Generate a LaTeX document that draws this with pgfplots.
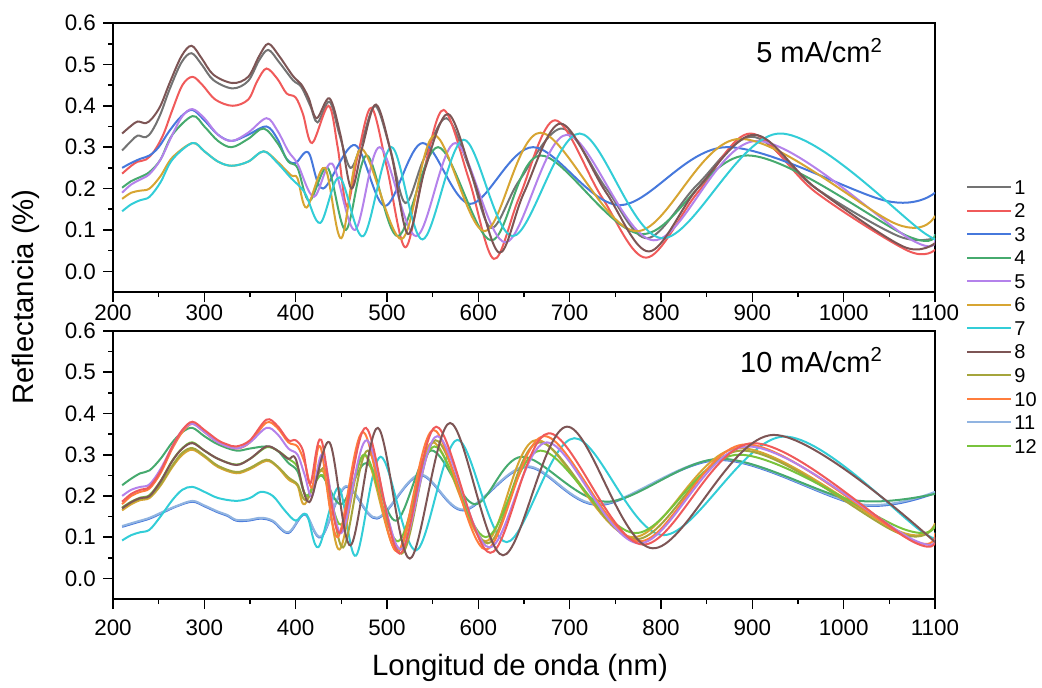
\documentclass[border=0pt]{standalone}
\usepackage{pgfplots}
\pgfplotsset{compat=1.18}
\usepackage{fontspec}
\setmainfont{Liberation Sans}
\definecolor{c1}{RGB}{115,115,115}
\definecolor{c2}{RGB}{240,90,90}
\definecolor{c3}{RGB}{70,120,220}
\definecolor{c4}{RGB}{70,170,110}
\definecolor{c5}{RGB}{180,130,235}
\definecolor{c6}{RGB}{215,165,50}
\definecolor{c7}{RGB}{50,205,215}
\definecolor{c8}{RGB}{125,85,85}
\definecolor{c9}{RGB}{165,165,60}
\definecolor{c10}{RGB}{255,125,60}
\definecolor{c11}{RGB}{145,180,225}
\definecolor{c12}{RGB}{120,195,60}
\pgfplotsset{
  panel/.style={
    scale only axis, width=411pt,
    xmin=200, xmax=1100, ymin=-0.05, ymax=0.6,
    xtick={200,300,400,500,600,700,800,900,1000,1100},
    ytick={0,0.1,0.2,0.3,0.4,0.5,0.6},
    minor x tick num=1, minor y tick num=1,
    xtick pos=bottom, ytick pos=left,
    tick align=outside,
    major tick length=5pt, minor tick length=2.5pt,
    axis line style={line width=0.9pt},
    every tick/.style={black, line width=0.8pt},
    /pgf/number format/assume math mode=true,
    ticklabel style={font=\fontsize{11.2}{12}\selectfont},
    xticklabel style={/pgf/number format/set thousands separator={}},
    yticklabel style={/pgf/number format/fixed, /pgf/number format/fixed zerofill, /pgf/number format/precision=1},
    scaled y ticks=false,
    every axis plot/.append style={smooth, tension=0.55, line width=1pt, forget plot},
  }
}
\begin{document}
\begin{tikzpicture}
\useasboundingbox (0pt,0pt) rectangle (521pt,343.5pt);
% ---------------- top panel: 5 mA/cm2 ----------------
\begin{axis}[panel, height=134.5pt, at={(56.5pt,197.5pt)}, anchor=south west,
  xticklabel style={yshift=2.2pt},
  legend style={at={(1.0377,0.4261)}, anchor=north west, draw=none, fill=none,
    inner sep=0pt, font=\fontsize{10}{11}\selectfont, row sep=2.57pt,
    nodes={inner sep=1pt, text height=7.2pt, text depth=0pt}},
  legend cell align=left,
  legend image code/.code={\draw[#1, line width=1pt] (0pt,0pt) -- (22pt,0pt);},
]
\addplot[c1] coordinates {(210,0.292)(220,0.315)(227,0.328)(236,0.324)(243,0.34)(252,0.38)(262,0.44)(275,0.505)(286,0.527)(297,0.5)(310,0.462)(331,0.442)(348,0.46)(360,0.51)(370,0.535)(382,0.505)(397,0.462)(406,0.446)(416,0.40)(424,0.36)(437,0.41)(448,0.33)(460,0.25)(472,0.31)(487,0.40)(503,0.30)(520,0.165)(540,0.27)(565,0.37)(590,0.25)(614,0.105)(645,0.22)(692,0.345)(740,0.2)(785,0.08)(840,0.21)(900,0.325)(970,0.2)(1060,0.085)(1100,0.08)};
\addplot[c2] coordinates {(210,0.236)(220,0.255)(227,0.265)(236,0.27)(245,0.29)(255,0.33)(265,0.39)(276,0.45)(287,0.47)(298,0.45)(312,0.415)(331,0.40)(348,0.415)(358,0.46)(368,0.49)(380,0.465)(390,0.43)(400,0.42)(408,0.38)(418,0.31)(436,0.40)(446,0.30)(456,0.158)(468,0.28)(483,0.395)(500,0.25)(520,0.058)(540,0.24)(562,0.39)(590,0.22)(617,0.03)(645,0.18)(684,0.365)(735,0.18)(784,0.033)(840,0.19)(898,0.333)(970,0.19)(1070,0.05)(1100,0.052)};
\addplot[c3] coordinates {(210,0.25)(220,0.262)(230,0.272)(240,0.28)(250,0.30)(262,0.34)(275,0.375)(287,0.39)(300,0.365)(315,0.33)(330,0.315)(348,0.33)(368,0.35)(380,0.32)(390,0.272)(400,0.262)(414,0.287)(430,0.20)(465,0.305)(498,0.158)(539,0.31)(591,0.163)(660,0.30)(755,0.16)(872,0.30)(1047,0.17)(1100,0.19)};
\addplot[c4] coordinates {(210,0.202)(220,0.218)(230,0.228)(240,0.24)(252,0.27)(265,0.33)(287,0.375)(300,0.35)(315,0.315)(330,0.30)(348,0.32)(365,0.345)(380,0.31)(392,0.265)(402,0.25)(415,0.17)(435,0.25)(455,0.10)(478,0.28)(512,0.085)(556,0.30)(614,0.075)(668,0.28)(780,0.09)(895,0.28)(1070,0.085)(1100,0.09)};
\addplot[c5] coordinates {(210,0.19)(220,0.21)(230,0.222)(240,0.235)(252,0.27)(265,0.33)(276,0.375)(287,0.392)(300,0.37)(315,0.33)(330,0.315)(348,0.335)(368,0.37)(380,0.34)(392,0.29)(402,0.26)(420,0.18)(440,0.26)(465,0.10)(492,0.30)(532,0.085)(575,0.31)(630,0.07)(697,0.33)(792,0.075)(905,0.315)(1075,0.075)(1100,0.08)};
\addplot[c6] coordinates {(210,0.175)(220,0.19)(230,0.195)(240,0.2)(252,0.23)(265,0.275)(287,0.31)(300,0.29)(315,0.265)(330,0.255)(348,0.265)(365,0.29)(380,0.265)(395,0.232)(402,0.225)(412,0.154)(432,0.25)(450,0.08)(472,0.296)(516,0.078)(552,0.328)(607,0.097)(668,0.335)(773,0.097)(886,0.32)(1058,0.114)(1100,0.134)};
\addplot[c7] coordinates {(210,0.145)(220,0.162)(230,0.172)(240,0.18)(252,0.215)(265,0.27)(287,0.31)(300,0.29)(315,0.265)(330,0.255)(348,0.265)(365,0.29)(380,0.262)(395,0.225)(410,0.19)(427,0.117)(448,0.227)(474,0.085)(505,0.30)(539,0.077)(584,0.318)(638,0.085)(711,0.333)(802,0.08)(930,0.333)(1090,0.09)(1100,0.09)};
\addplot[c8] coordinates {(210,0.333)(220,0.352)(227,0.362)(236,0.358)(243,0.37)(252,0.40)(262,0.455)(275,0.52)(286,0.545)(297,0.515)(310,0.475)(331,0.455)(348,0.47)(360,0.52)(370,0.55)(382,0.52)(397,0.472)(406,0.452)(414,0.42)(423,0.37)(437,0.418)(449,0.33)(461,0.20)(473,0.30)(488,0.403)(505,0.28)(523,0.09)(542,0.25)(567,0.38)(595,0.22)(623,0.045)(650,0.19)(690,0.357)(740,0.19)(787,0.048)(840,0.2)(902,0.33)(970,0.2)(1065,0.06)(1100,0.068)};
\addlegendimage{c1}\addlegendentry{1}
\addlegendimage{c2}\addlegendentry{2}
\addlegendimage{c3}\addlegendentry{3}
\addlegendimage{c4}\addlegendentry{4}
\addlegendimage{c5}\addlegendentry{5}
\addlegendimage{c6}\addlegendentry{6}
\addlegendimage{c7}\addlegendentry{7}
\addlegendimage{c8}\addlegendentry{8}
\addlegendimage{c9}\addlegendentry{9}
\addlegendimage{c10}\addlegendentry{10}
\addlegendimage{c11}\addlegendentry{11}
\addlegendimage{c12}\addlegendentry{12}
\end{axis}
% ---------------- bottom panel: 10 mA/cm2 ----------------
\begin{axis}[panel, height=134pt, at={(56.5pt,44pt)}, anchor=south west,
  xticklabel style={yshift=-2pt}]
\addplot[c3] coordinates {(210,0.125)(225,0.135)(240,0.145)(255,0.16)(270,0.175)(287,0.186)(300,0.175)(315,0.16)(325,0.152)(335,0.14)(348,0.14)(362,0.145)(375,0.138)(392,0.11)(410,0.155)(428,0.10)(455,0.222)(489,0.145)(536,0.25)(584,0.165)(653,0.27)(733,0.178)(865,0.287)(1018,0.178)(1100,0.207)};
\addplot[c11] coordinates {(210,0.127)(225,0.137)(240,0.147)(255,0.162)(270,0.176)(287,0.188)(300,0.177)(315,0.162)(325,0.154)(335,0.142)(348,0.142)(362,0.147)(375,0.14)(392,0.112)(410,0.157)(428,0.102)(455,0.224)(489,0.147)(536,0.252)(584,0.167)(653,0.272)(733,0.18)(865,0.289)(1018,0.18)(1100,0.21)};
\addplot[c4] coordinates {(210,0.226)(220,0.242)(230,0.255)(240,0.262)(252,0.29)(265,0.33)(276,0.355)(287,0.365)(300,0.345)(315,0.325)(335,0.31)(350,0.315)(368,0.32)(380,0.31)(392,0.28)(402,0.26)(412,0.2)(428,0.25)(450,0.18)(478,0.28)(510,0.14)(548,0.31)(596,0.18)(648,0.295)(740,0.186)(865,0.29)(1010,0.19)(1100,0.205)};
\addplot[c7] coordinates {(210,0.092)(220,0.105)(230,0.112)(240,0.118)(252,0.15)(265,0.19)(276,0.215)(287,0.222)(300,0.21)(315,0.195)(335,0.188)(350,0.195)(362,0.21)(375,0.2)(388,0.165)(400,0.14)(412,0.155)(425,0.076)(447,0.22)(466,0.055)(493,0.295)(532,0.068)(577,0.336)(631,0.088)(705,0.34)(803,0.105)(935,0.344)(1088,0.11)(1100,0.112)};
\addplot[c6] coordinates {(210,0.165)(220,0.18)(230,0.19)(240,0.195)(252,0.225)(265,0.27)(276,0.3)(287,0.312)(300,0.295)(315,0.27)(335,0.255)(350,0.265)(368,0.285)(380,0.27)(392,0.24)(402,0.225)(410,0.18)(430,0.26)(448,0.07)(475,0.30)(512,0.065)(550,0.33)(608,0.09)(664,0.336)(769,0.10)(886,0.316)(1062,0.113)(1100,0.134)};
\addplot[c9] coordinates {(210,0.17)(220,0.184)(230,0.193)(240,0.198)(252,0.228)(265,0.274)(276,0.305)(287,0.316)(300,0.298)(315,0.273)(335,0.258)(350,0.268)(368,0.288)(380,0.272)(392,0.245)(402,0.228)(412,0.19)(432,0.265)(452,0.075)(479,0.31)(516,0.06)(553,0.335)(610,0.085)(667,0.33)(772,0.095)(888,0.31)(1060,0.11)(1100,0.13)};
\addplot[c12] coordinates {(210,0.172)(220,0.186)(230,0.196)(240,0.202)(252,0.236)(265,0.286)(276,0.316)(287,0.33)(300,0.31)(315,0.29)(335,0.276)(350,0.29)(368,0.318)(380,0.31)(392,0.29)(402,0.27)(412,0.2)(430,0.25)(450,0.13)(476,0.30)(512,0.09)(552,0.32)(608,0.1)(668,0.31)(772,0.11)(885,0.30)(1065,0.12)(1100,0.128)};
\addplot[c10] coordinates {(210,0.18)(220,0.2)(230,0.21)(240,0.218)(252,0.255)(265,0.315)(276,0.355)(287,0.375)(300,0.355)(315,0.33)(335,0.315)(350,0.33)(368,0.378)(380,0.365)(392,0.33)(402,0.32)(410,0.28)(418,0.22)(427,0.32)(446,0.10)(474,0.355)(511,0.065)(551,0.36)(608,0.07)(672,0.345)(776,0.09)(893,0.325)(1072,0.095)(1100,0.11)};
\addplot[c5] coordinates {(210,0.2)(220,0.215)(230,0.222)(240,0.228)(252,0.265)(265,0.32)(276,0.36)(287,0.375)(300,0.355)(315,0.33)(335,0.315)(350,0.33)(368,0.365)(380,0.35)(392,0.315)(402,0.30)(410,0.25)(418,0.20)(430,0.30)(450,0.11)(478,0.335)(515,0.07)(555,0.345)(612,0.075)(675,0.33)(776,0.085)(895,0.32)(1075,0.095)(1100,0.1)};
\addplot[c2] coordinates {(210,0.186)(220,0.205)(230,0.215)(240,0.222)(252,0.26)(265,0.32)(276,0.36)(287,0.38)(300,0.36)(315,0.335)(325,0.325)(335,0.32)(350,0.335)(368,0.385)(380,0.37)(392,0.335)(400,0.335)(408,0.31)(416,0.23)(428,0.336)(448,0.11)(477,0.365)(514,0.06)(554,0.368)(613,0.062)(677,0.352)(780,0.082)(901,0.328)(1075,0.09)(1100,0.1)};
\addplot[c8] coordinates {(210,0.17)(220,0.185)(230,0.195)(240,0.2)(252,0.235)(265,0.285)(276,0.315)(287,0.328)(300,0.31)(315,0.29)(335,0.275)(350,0.29)(368,0.32)(380,0.31)(392,0.29)(400,0.29)(415,0.185)(437,0.33)(460,0.08)(490,0.365)(525,0.048)(569,0.377)(627,0.056)(697,0.368)(791,0.073)(923,0.348)(1100,0.088)};
\end{axis}
% ---------------- labels ----------------
\node[anchor=base east, font=\fontsize{14.5}{16}\selectfont] at (445pt,312pt) {5 mA/cm\textsuperscript{2}};
\node[anchor=base east, font=\fontsize{14.5}{16}\selectfont] at (445pt,157.5pt) {10 mA/cm\textsuperscript{2}};
\node[rotate=90, font=\fontsize{14.7}{16}\selectfont] at (13pt,195pt) {Reflectancia (\%)};
\node[font=\fontsize{14.7}{16}\selectfont] at (260pt,9.75pt) {Longitud de onda (nm)};
\end{tikzpicture}
\end{document}
